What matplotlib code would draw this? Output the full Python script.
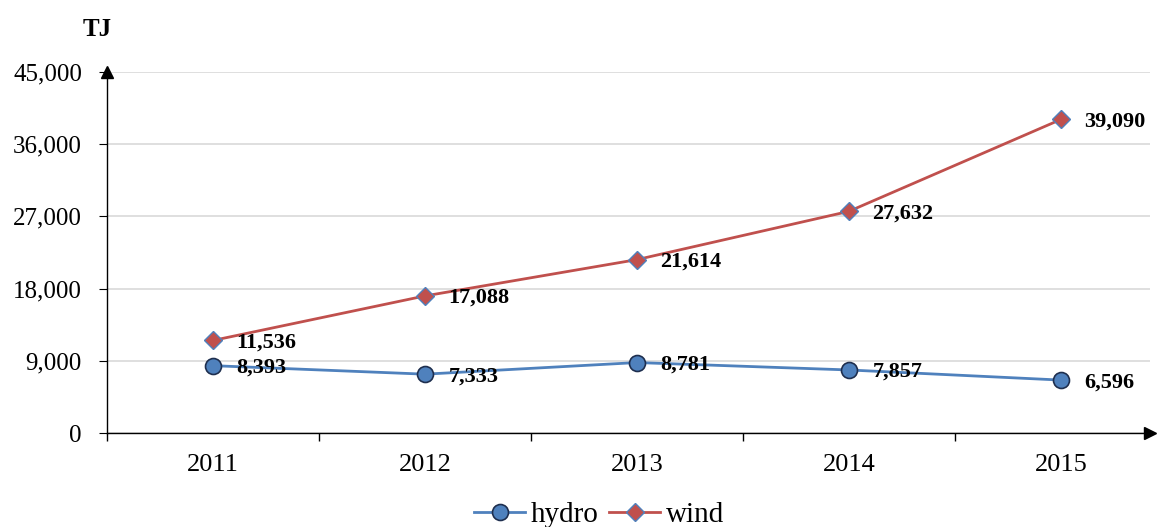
import matplotlib.pyplot as plt
from matplotlib.ticker import FuncFormatter, FixedLocator

years = ["2011", "2012", "2013", "2014", "2015"]
hydro = [8393, 7333, 8781, 7857, 6596]
wind = [11536, 17088, 21614, 27632, 39090]

plt.rcParams['font.family'] = ['Liberation Serif', 'DejaVu Serif']

fig = plt.figure(figsize=(11.57, 5.27), dpi=100)
ax = fig.add_axes([107 / 1157, 94 / 527, 1043 / 1157, 361 / 527])

x = list(range(len(years)))
ax.plot(x, hydro, color="#4F81BD", lw=2, marker="o", ms=11.5,
        markerfacecolor="#4F81BD", markeredgecolor="#1F2F4F", markeredgewidth=1.2,
        label="hydro", zorder=3)
ax.plot(x, wind, color="#C0504D", lw=2, marker="D", ms=9,
        markerfacecolor="#C0504D", markeredgecolor="#4F81BD", markeredgewidth=1,
        label="wind", zorder=3)

for xi, v in zip(x, hydro):
    ax.annotate(f"{v:,}", (xi, v), xytext=(17, -1.5), textcoords="offset points",
                ha="left", va="center", fontsize=16, fontweight="bold")
for xi, v in zip(x, wind):
    ax.annotate(f"{v:,}", (xi, v), xytext=(17, -1.5), textcoords="offset points",
                ha="left", va="center", fontsize=16, fontweight="bold")

ax.set_xlim(-0.5, 4.42)
ax.set_ylim(0, 45000)
ax.set_yticks(range(0, 45001, 9000))
ax.yaxis.set_major_formatter(FuncFormatter(lambda v, p: f"{int(v):,}"))
ax.set_xticks(x)
ax.set_xticklabels(years)
ax.xaxis.set_minor_locator(FixedLocator([-0.5, 0.5, 1.5, 2.5, 3.5]))
ax.tick_params(axis="x", which="major", length=0, pad=15, labelsize=19)
ax.tick_params(axis="x", which="minor", length=6, direction="out", width=1)
ax.tick_params(axis="y", length=6, direction="out", labelsize=18, pad=12)

ax.grid(axis="y", color="#D9D9D9", lw=1.2)
ax.set_axisbelow(True)
for s in ["top", "right"]:
    ax.spines[s].set_visible(False)
ax.spines["left"].set_linewidth(1)
ax.spines["bottom"].set_linewidth(1)

ax.plot(0, 1, "^k", ms=9, transform=ax.transAxes, clip_on=False)
ax.plot(1.0, 0, ">k", ms=9, transform=ax.transAxes, clip_on=False)

fig.text(97 / 1157, 1 - 30 / 527, "TJ", fontsize=18, fontweight="bold",
         ha="center", va="center")

fig.legend(loc="center", bbox_to_anchor=(0.518, 1 - 515 / 527), ncol=2,
           frameon=False, fontsize=21, handlelength=1.75, columnspacing=0.35,
           handletextpad=0.2, borderpad=0)

fig.savefig("out.png", dpi=100)
